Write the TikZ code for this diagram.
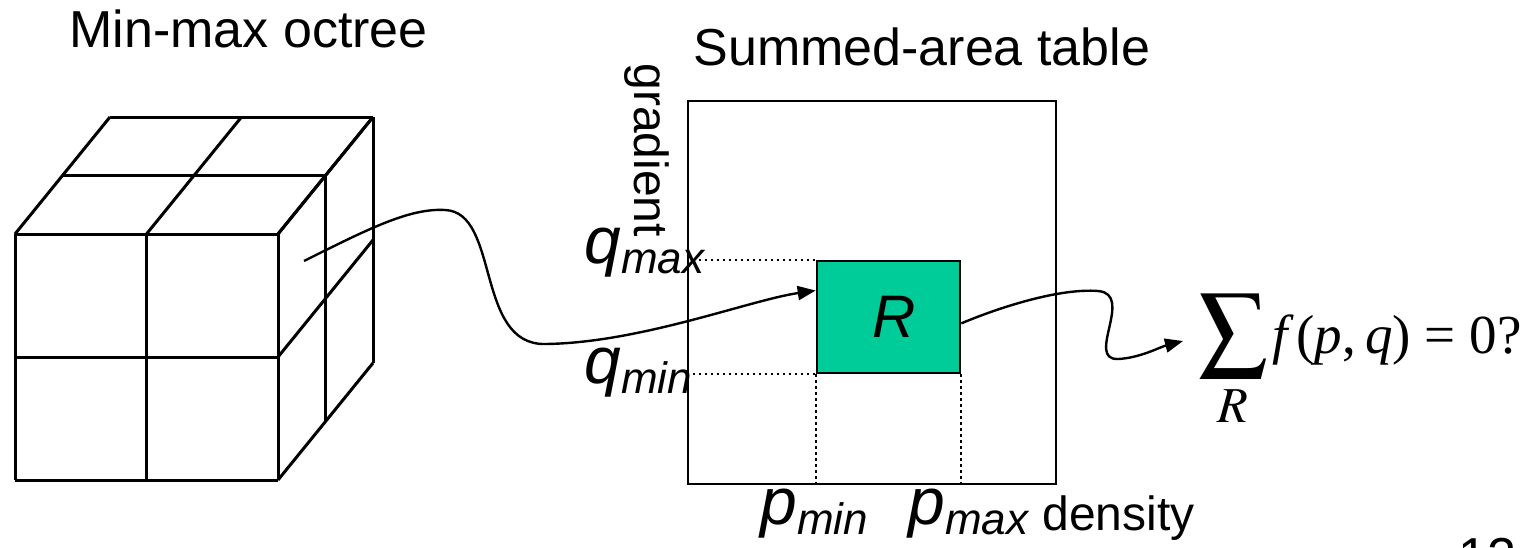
\documentclass[tikz,border=0pt]{standalone}
\usepackage{mathptmx}
\usepackage[no-math]{fontspec}
\setmainfont{Liberation Sans}
\newfontfamily\formfont{Liberation Serif}
\usetikzlibrary{arrows.meta,calc}

\definecolor{regiongreen}{RGB}{0,204,153}
\newcommand{\varsub}[2]{\textit{#1}\raisebox{-5pt}{\fontsize{22}{24}\selectfont\textit{#2}}}

\tikzset{
  cubeline/.style={line width=1.5pt},
  guide/.style={line width=0.9pt, dash pattern=on 1.1pt off 1.9pt},
  conn/.style={line width=1.2pt, -{Triangle[length=9pt,width=7pt]}},
  title/.style={font=\fontsize{26}{30}\selectfont, inner sep=0pt, anchor=base west},
  axislbl/.style={font=\fontsize{24}{30}\selectfont, inner sep=0pt},
  varlbl/.style={font=\fontsize{33}{36}\selectfont, inner sep=0pt, anchor=base west},
}

\begin{document}
\begin{tikzpicture}[x=0.5pt,y=-0.5pt]
	\useasboundingbox (0,0) rectangle (1531,547);
	
	\node[title] (octtitle) at (69,47) {Min-max octree};
	\node[title] (sattitle) at (693,65) {Summed-area table};
	
	% octree
	\begin{scope}[shift={(7.5pt,-240pt)},x={(65.75pt,0pt)},y={(0pt,61.5pt)},z={(23.75pt,29.25pt)}]
		\foreach \i in {0,1,2}{
			\draw[cubeline] (\i,0,0) -- (\i,2,0);
			\draw[cubeline] (0,\i,0) -- (2,\i,0);
			\draw[cubeline] (\i,2,0) -- (\i,2,2);
			\draw[cubeline] (0,2,\i) -- (2,2,\i);
			\draw[cubeline] (2,\i,0) -- (2,\i,2);
			\draw[cubeline] (2,0,\i) -- (2,2,\i);
		}
	\end{scope}
	\coordinate (cell) at (304,261);
	
	% summed-area table
	\node[draw, line width=1.3pt, minimum width=184pt, minimum height=191.5pt, inner sep=0pt] (sat) at (872,292.5) {};
	\node[draw, line width=1.3pt, fill=regiongreen, minimum width=71.5pt, minimum height=56pt, inner sep=0pt,
	      font=\fontsize{30}{36}\selectfont\itshape] (rbox) at (888.5,317) {\hspace*{6pt}R};
	
	\draw[guide] (sat.west |- rbox.north) -- (rbox.north west);
	\draw[guide] (sat.west |- rbox.south) -- (rbox.south west);
	\draw[guide] (rbox.south west) -- (rbox.south west |- sat.south);
	\draw[guide] (rbox.south east) -- (rbox.south east |- sat.south);
	
	\node[axislbl, rotate=-90, anchor=north west] (grad) at (670,63) {gradient};
	\node[varlbl] (qmax) at (584,263) {\varsub{q}{max}};
	\node[varlbl] (qmin) at (584,383) {\varsub{q}{min}};
	\node[varlbl] (pmin) at (760,524) {\varsub{p}{min}};
	\node[varlbl] (pmax) at (908,524) {\varsub{p}{max}};
	\node[axislbl, anchor=base west] (dens) at (1042,530) {density};
	
	\node[inner sep=0pt, anchor=base west, font=\fontsize{27.5}{34}\formfont] (sumeq) at (1198,353)
	  {{\fontsize{34}{38}\selectfont$\displaystyle\sum_{R}$}\hspace{2pt}\textit{f\,}(\textit{p},\,\textit{q}) = 0?};
	
	\draw[conn] (cell) .. controls (370,228) and (410,208) .. (445,210)
	  .. controls (500,212) and (475,345) .. (545,344)
	  .. controls (640,343) and (750,300) .. (rbox.160);
	\draw[conn] (rbox.-5) .. controls (1000,307) and (1060,288) .. (1098,291)
	  .. controls (1135,294) and (1085,360) .. (1118,359)
	  .. controls (1140,358) and (1160,347) .. ([xshift=-7.5pt,yshift=6pt]sumeq.base west);
	
	\node[title] (pageno) at (1458,574) {12};
\end{tikzpicture}
\end{document}
